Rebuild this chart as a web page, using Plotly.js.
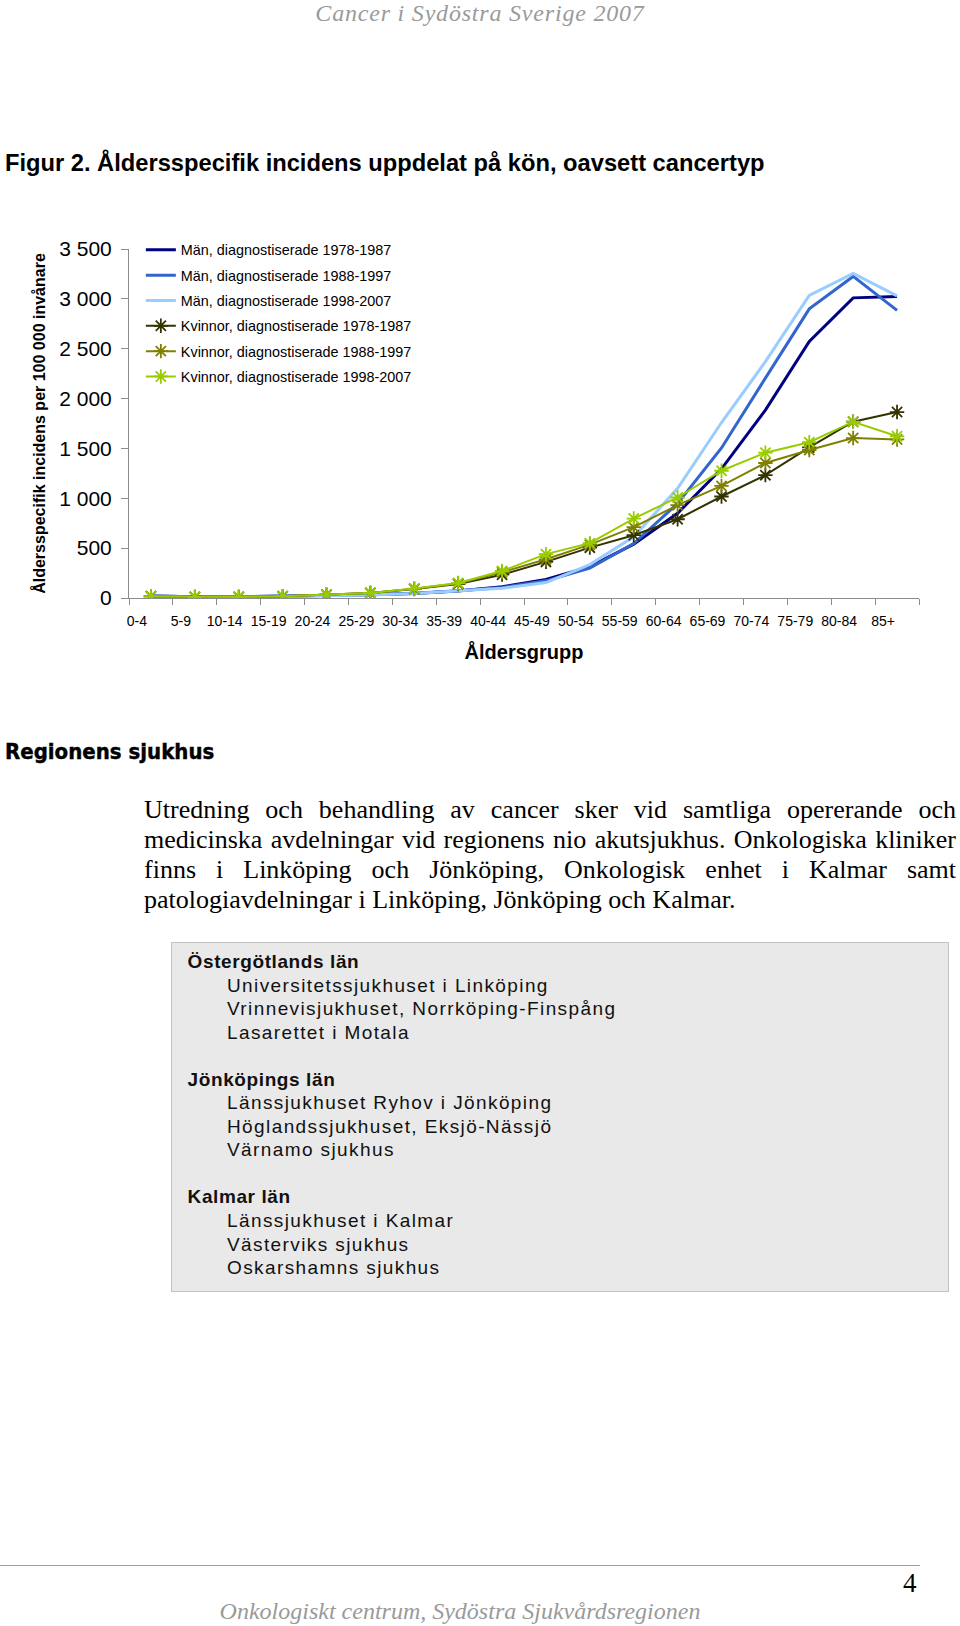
<!DOCTYPE html>
<html>
<head>
<meta charset="utf-8">
<script src="https://cdn.plot.ly/plotly-3.0.1.min.js"></script>
<style>
  html, body { margin: 0; padding: 0; background: #fff; }
  #page { position: relative; width: 960px; height: 1626px; overflow: hidden; background: #fff; }
  #chart { position: absolute; left: 0; top: 0; width: 960px; height: 700px; }
  .abs { position: absolute; white-space: nowrap; }
  #hdr { left: 0; width: 960px; top: 0px; text-align: center; font: italic 24px/27px "Liberation Serif", "Times New Roman", serif; letter-spacing: 0.8px; color: #9a9a9a; }
  #sec { left: 5px; top: 739px; font: bold 22px/26px "DejaVu Sans Condensed", "DejaVu Sans", sans-serif; color: #000; -webkit-text-stroke: 0.4px #000; }
  #para { left: 144px; width: 812px; top: 794.7px; font: 26px/30.07px "Liberation Serif", "Times New Roman", serif; color: #000; white-space: normal; }
  #para div { white-space: nowrap; }
  #para .j { text-align: justify; text-align-last: justify; white-space: normal; }
  #box { left: 171px; top: 942.4px; width: 778px; height: 350px; background: #e9e9e9; border: 1.5px solid #c2c2c2; box-sizing: border-box; }
  #boxtext { left: 187.6px; top: 950.2px; font: 19px/23.53px "Liberation Sans", Arial, sans-serif; color: #111; }
  #boxtext .h { font-weight: bold; letter-spacing: 0.6px; }
  #boxtext .i { padding-left: 39.4px; letter-spacing: 1.4px; }
  #boxtext .b { height: 23.53px; }
  #rule { left: 0; top: 1565px; width: 920px; height: 0; border-top: 1.5px solid #a0a0a0; }
  #pno { left: 903px; top: 1570px; font: 27px/27px "Liberation Serif", "Times New Roman", serif; color: #000; }
  #ftr { left: 0; width: 920px; top: 1599px; text-align: center; font: italic 24px/24px "Liberation Serif", "Times New Roman", serif; color: #9a9a9a; }
</style>
</head>
<body>
<div id="page">
  <div id="chart"></div>
  <div id="hdr" class="abs">Cancer i Sydöstra Sverige 2007</div>
  <div id="sec" class="abs">Regionens sjukhus</div>
  <div id="para" class="abs">
    <div class="j">Utredning och behandling av cancer sker vid samtliga opererande och</div>
    <div class="j">medicinska avdelningar vid regionens nio akutsjukhus. Onkologiska kliniker</div>
    <div class="j">finns i Linköping och Jönköping, Onkologisk enhet i Kalmar samt</div>
    <div>patologiavdelningar i Linköping, Jönköping och Kalmar.</div>
  </div>
  <div id="box" class="abs"></div>
  <div id="boxtext" class="abs">
    <div class="h">Östergötlands län</div>
    <div class="i">Universitetssjukhuset i Linköping</div>
    <div class="i">Vrinnevisjukhuset, Norrköping-Finspång</div>
    <div class="i">Lasarettet i Motala</div>
    <div class="b"></div>
    <div class="h">Jönköpings län</div>
    <div class="i">Länssjukhuset Ryhov i Jönköping</div>
    <div class="i">Höglandssjukhuset, Eksjö-Nässjö</div>
    <div class="i">Värnamo sjukhus</div>
    <div class="b"></div>
    <div class="h">Kalmar län</div>
    <div class="i">Länssjukhuset i Kalmar</div>
    <div class="i">Västerviks sjukhus</div>
    <div class="i">Oskarshamns sjukhus</div>
  </div>
  <div id="rule" class="abs"></div>
  <div id="pno" class="abs">4</div>
  <div id="ftr" class="abs">Onkologiskt centrum, Sydöstra Sjukvårdsregionen</div>
</div>
<script>
// ---- Data ----
const ageGroups = ["0-4","5-9","10-14","15-19","20-24","25-29","30-34","35-39","40-44","45-49","50-54","55-59","60-64","65-69","70-74","75-79","80-84","85+"];

const man_1978_1987 = [20, 12, 12, 18, 24, 32, 45, 70, 112, 185, 315, 540, 850, 1295, 1885, 2572, 3010, 3024];
const man_1988_1997 = [20, 12, 12, 18, 24, 32, 48, 72, 105, 172, 300, 546, 948, 1505, 2205, 2900, 3225, 2885];
const man_1998_2007 = [18, 10, 10, 15, 22, 30, 45, 70, 98, 155, 335, 613, 1100, 1760, 2370, 3035, 3255, 3030];
const kv_1978_1987  = [17, 10, 10, 18, 33, 50, 90, 140, 234, 362, 505, 630, 790, 1018, 1232, 1510, 1768, 1865];
const kv_1988_1997  = [17, 10, 10, 18, 33, 50, 92, 145, 258, 388, 535, 710, 931, 1124, 1354, 1484, 1604, 1590];
const kv_1998_2007  = [17, 10, 10, 18, 33, 50, 95, 150, 271, 440, 550, 797, 1008, 1276, 1457, 1562, 1768, 1622];

const seriesNames = [
  "Män, diagnostiserade 1978-1987",
  "Män, diagnostiserade 1988-1997",
  "Män, diagnostiserade 1998-2007",
  "Kvinnor, diagnostiserade 1978-1987",
  "Kvinnor, diagnostiserade 1988-1997",
  "Kvinnor, diagnostiserade 1998-2007"
];
const seriesValues = [man_1978_1987, man_1988_1997, man_1998_2007, kv_1978_1987, kv_1988_1997, kv_1998_2007];

const yTickVals = [0, 500, 1000, 1500, 2000, 2500, 3000, 3500];
const yTickText = ["0", "500", "1 000", "1 500", "2 000", "2 500", "3 000", "3 500"];

const chartTitle = "Figur 2. Åldersspecifik incidens uppdelat på kön, oavsett cancertyp";
const xTitle = "Åldersgrupp";
const yTitle = "Åldersspecifik incidens per 100 000 invånare";

// ---- Styles ----
const colors = ["#000080", "#3366cc", "#99ccff", "#333300", "#808000", "#99cc00"];
const widths = [3, 3, 3, 2, 2, 2];
const hasMarkers = [false, false, false, true, true, true];
const SANS = "Liberation Sans, Arial, sans-serif";

const traces = seriesNames.map((name, i) => ({
  type: "scatter",
  mode: hasMarkers[i] ? "lines+markers" : "lines",
  x: ageGroups,
  y: seriesValues[i],
  name: name,
  legendgroup: "g" + i,
  line: { color: colors[i], width: widths[i] },
  marker: { symbol: "asterisk-open", size: 12, color: colors[i], line: { color: colors[i], width: 1.8 } },
  hoverinfo: "x+y+name"
}));

const layout = {
  width: 960,
  height: 700,
  margin: { l: 129, r: 41, t: 249, b: 102 },
  paper_bgcolor: "rgba(0,0,0,0)",
  plot_bgcolor: "#fff",
  font: { family: SANS, color: "#000" },
  title: {
    text: chartTitle,
    font: { family: SANS, size: 23.7, weight: "bold", color: "#000" },
    xref: "container", x: 5 / 960, xanchor: "left",
    yref: "container", y: 1 - 163 / 700, yanchor: "middle"
  },
  showlegend: true,
  legend: {
    x: 0.015, xanchor: "left",
    y: 1.043, yanchor: "top",
    bgcolor: "rgba(0,0,0,0)",
    font: { family: SANS, size: 14.4, color: "#000" },
    traceorder: "grouped",
    tracegroupgap: 3.6
  },
  xaxis: {
    type: "category",
    range: [-0.5, 17.5],
    showline: true, linecolor: "#8c8c8c", linewidth: 1,
    ticks: "outside", tickson: "boundaries", ticklen: 6, tickcolor: "#8c8c8c",
    showgrid: false, zeroline: false,
    tickangle: 0,
    tickfont: { family: SANS, size: 14, color: "#000" },
    ticklabelshift: -14,
    ticklabelstandoff: 10,
    title: { text: xTitle, font: { family: SANS, size: 20, weight: "bold", color: "#000" }, standoff: 17 },
    fixedrange: true
  },
  yaxis: {
    range: [0, 3500],
    tickvals: yTickVals, ticktext: yTickText,
    showline: true, linecolor: "#8c8c8c", linewidth: 1,
    ticks: "outside", ticklen: 7, tickcolor: "#8c8c8c",
    showgrid: false, zeroline: false,
    tickfont: { family: SANS, size: 21, color: "#000" },
    ticklabelstandoff: 5,
    title: { text: yTitle, font: { family: SANS, size: 16, weight: "bold", color: "#000" }, standoff: 9 },
    fixedrange: true
  }
};

Plotly.newPlot("chart", traces, layout, { displayModeBar: false, staticPlot: false, responsive: false });
</script>
</body>
</html>
